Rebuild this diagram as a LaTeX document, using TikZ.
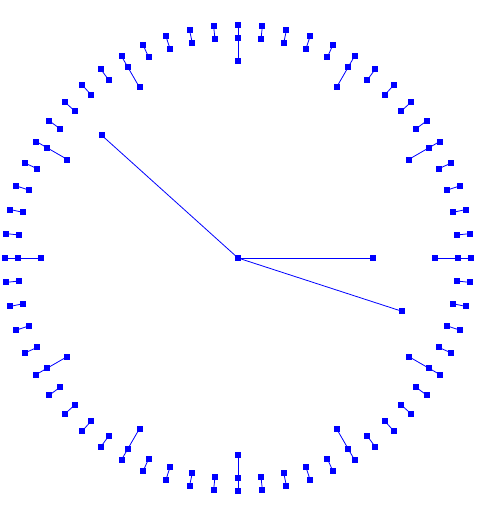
\documentclass[tikz,border=0pt]{standalone}
\begin{document}
\begin{tikzpicture}[x=1pt,y=1pt,
  hand/.style={draw={rgb,255:red,0;green,0;blue,255}, line width=0.8pt},
  mk/.style={rectangle, fill={rgb,255:red,0;green,0;blue,255}, draw=none, minimum size=6pt, inner sep=0pt, outer sep=0pt}]
\useasboundingbox (0,0) rectangle (482,-522);
\coordinate (c) at (238,-258);
% minute ticks
\foreach \i in {0,...,59}{
  \pgfmathsetmacro\a{90-6*\i}
  \path (c) ++(\a:233) coordinate (o\i);
  \path (c) ++(\a:220) coordinate (m\i);
  \draw[hand] (o\i) -- (m\i);
  \node[mk] at (o\i) {};
  \node[mk] at (m\i) {};
}
% hour ticks
\foreach \h in {0,...,11}{
  \pgfmathtruncatemacro\k{5*\h}
  \pgfmathsetmacro\a{90-30*\h}
  \path (c) ++(\a:197) coordinate (h\h);
  \draw[hand] (m\k) -- (h\h);
  \node[mk] at (m\k) {};
  \node[mk] at (h\h) {};
}
% hands
\path (c) ++(0:135) coordinate (hh);
\path (c) ++(-18:172) coordinate (mh);
\path (c) ++(138:183.5) coordinate (sh);
\draw[hand] (c) -- (hh);
\draw[hand] (c) -- (mh);
\draw[hand] (c) -- (sh);
\node[mk] (ctr) at (c) {};
\node[mk] (hhm) at (hh) {};
\node[mk] (mhm) at (mh) {};
\node[mk] (shm) at (sh) {};
\end{tikzpicture}
\end{document}
